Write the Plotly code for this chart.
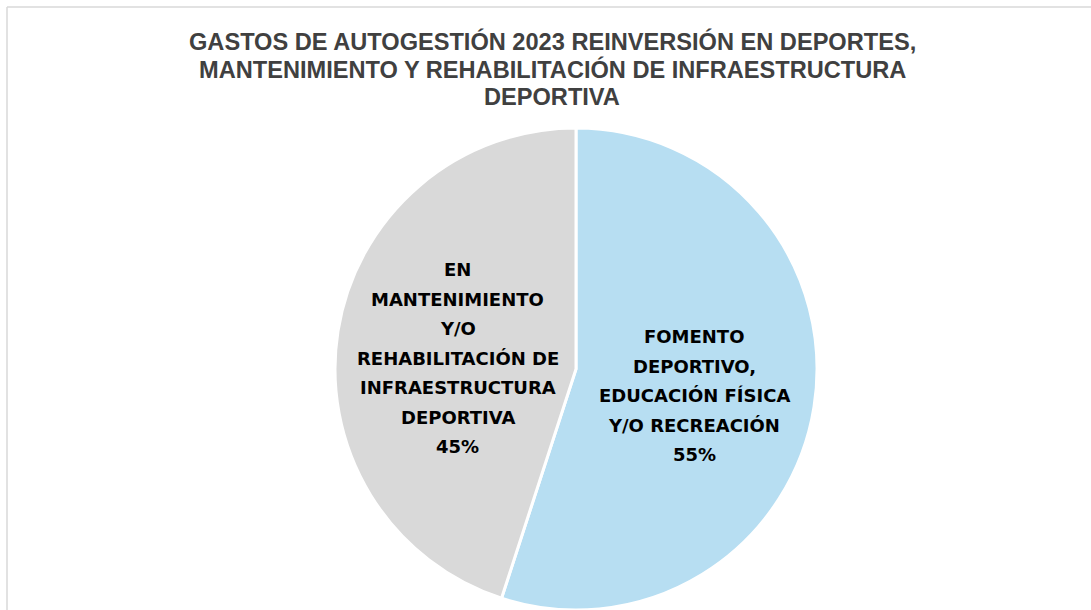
import math

import plotly.graph_objects as go

# data
labels = [
    "FOMENTO DEPORTIVO, EDUCACIÓN FÍSICA Y/O RECREACIÓN",
    "EN MANTENIMIENTO Y/O REHABILITACIÓN DE INFRAESTRUCTURA DEPORTIVA",
]
values = [55, 45]
label_lines = [
    ["FOMENTO", "DEPORTIVO,", "EDUCACIÓN FÍSICA", "Y/O RECREACIÓN"],
    ["EN", "MANTENIMIENTO", "Y/O", "REHABILITACIÓN DE", "INFRAESTRUCTURA", "DEPORTIVA"],
]
colors = ["#B7DEF2", "#D9D9D9"]
title_lines = [
    "GASTOS DE AUTOGESTIÓN 2023 REINVERSIÓN EN DEPORTES,",
    "MANTENIMIENTO Y REHABILITACIÓN DE INFRAESTRUCTURA",
    "DEPORTIVA",
]

W, H = 1091, 610
TOP = 128
PLOT_H = H - TOP
CX = 576
HALF = PLOT_H / 2  # pie domain half-size in px
R = HALF - 2      # radius plotly actually draws


def py_to_paper(py):
    return (H - py) / PLOT_H


fig = go.Figure(
    go.Pie(
        labels=labels,
        values=values,
        sort=False,
        direction="clockwise",
        rotation=0,
        marker=dict(colors=colors, line=dict(color="white", width=3)),
        textinfo="none",
        hoverinfo="label+percent",
        showlegend=False,
        domain=dict(x=[(CX - HALF) / W, (CX + HALF) / W], y=[0, 1]),
    )
)

annotations = []

# title, one annotation per line for tighter spacing
for i, t in enumerate(title_lines):
    annotations.append(
        dict(
            x=552 / W, y=py_to_paper(42 + 27.5 * i),
            xref="paper", yref="paper",
            text=f"<b>{t}</b>", showarrow=False,
            xanchor="center", yanchor="middle",
            font=dict(family="Liberation Sans", size=23.6, color="#404040"),
        )
    )

# slice labels at half radius along each slice bisector
total = sum(values)
cum = 0
cx_p = CX / W
cy_p = 0.5
line_h = 29.5
for val, lines in zip(values, label_lines):
    mid = (cum + val / 2) / total * 2 * math.pi
    cum += val
    px = cx_p + 0.5 * R * math.sin(mid) / W
    py = cy_p + 0.5 * R * math.cos(mid) / PLOT_H
    pct = f"{round(val / total * 100)}%"
    all_lines = lines + [pct]
    n = len(all_lines)
    for i, t in enumerate(all_lines):
        annotations.append(
            dict(
                x=px, y=py,
                xref="paper", yref="paper",
                text=f"<b>{t}</b>", showarrow=False,
                xanchor="center", yanchor="middle",
                yshift=((n - 1) / 2 - i) * line_h - 8,
                font=dict(family="DejaVu Sans", size=18, color="#000000"),
            )
        )

# chart border (only left and top edges fall inside the window)
bx = 7 / W
by = py_to_paper(7)
shapes = [
    dict(type="line", xref="paper", yref="paper", x0=bx, x1=bx, y0=-0.05, y1=by,
         line=dict(color="#D9D9D9", width=1.5)),
    dict(type="line", xref="paper", yref="paper", x0=bx, x1=1.05, y0=by, y1=by,
         line=dict(color="#D9D9D9", width=1.5)),
]

fig.update_layout(
    width=W,
    height=H,
    margin=dict(l=0, r=0, t=TOP, b=0),
    paper_bgcolor="white",
    plot_bgcolor="white",
    annotations=annotations,
    shapes=shapes,
)

fig.write_html(
    "out.html",
    config={"displayModeBar": False},
    post_script="document.body.style.margin='0px';",
)
